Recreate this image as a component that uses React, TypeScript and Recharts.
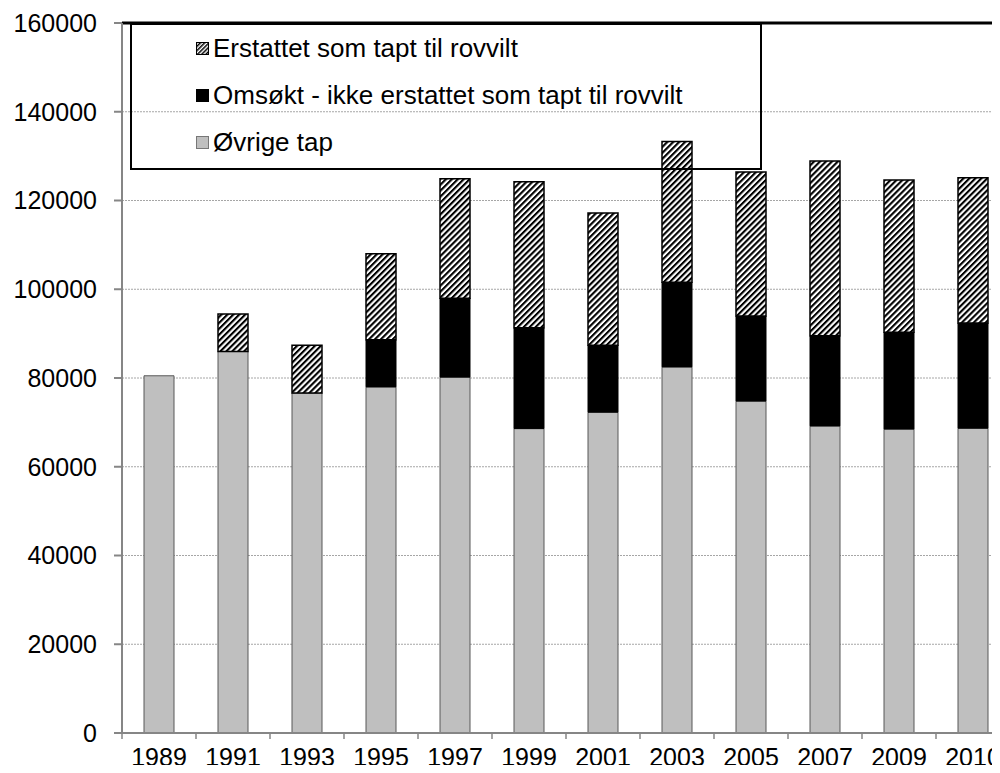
import { BarChart, Bar, XAxis, YAxis, CartesianGrid, ReferenceLine } from "recharts";

const YEARS = ["1989", "1991", "1993", "1995", "1997", "1999", "2001", "2003", "2005", "2007", "2009", "2010"];
const OVRIGE = [80500, 86000, 76600, 78000, 80200, 68600, 72300, 82500, 74800, 69200, 68500, 68700];
const OMSOKT = [null, null, null, 10600, 17800, 22700, 15100, 19100, 19200, 20300, 21800, 23700];
const ERSTATTET = [null, 8400, 10800, 19400, 26900, 32900, 29800, 31700, 32400, 39400, 34300, 32700];
const Y_TICKS = [0, 20000, 40000, 60000, 80000, 100000, 120000, 140000, 160000];

const LABELS = {
  erstattet: "Erstattet som tapt til rovvilt",
  omsokt: "Omsøkt - ikke erstattet som tapt til rovvilt",
  ovrige: "Øvrige tap",
};

const data = YEARS.map((year, i) => ({
  year,
  ovrige: OVRIGE[i],
  omsokt: OMSOKT[i],
  erstattet: ERSTATTET[i],
}));

const FONT = '"Liberation Sans", Arial, sans-serif';

// x tick: label in the middle, tick mark on the left edge of the band
const YearTick = (props: any) => {
  const { x, y, payload } = props;
  return (
    <g>
      <line x1={x - 37} y1={y} x2={x - 37} y2={y + 6} stroke="#868686" strokeWidth={1.5} />
      <text x={x} y={y + 33} textAnchor="middle" fontSize={25} fill="#000" fontFamily={FONT}>
        {payload.value}
      </text>
    </g>
  );
};

const Marker = ({ kind }: { kind: string }) => (
  <svg width={13} height={13} style={{ marginRight: 4, flex: "none" }}>
    <defs>
      <pattern id="hatchLeg" width={3} height={3} patternUnits="userSpaceOnUse" patternTransform="rotate(45)">
        <rect width={1.5} height={3} fill="#000" />
      </pattern>
    </defs>
    {kind === "erstattet" && <rect x={0.5} y={0.5} width={12} height={12} fill="url(#hatchLeg)" stroke="#000" />}
    {kind === "omsokt" && <rect x={0} y={0} width={13} height={13} fill="#000" />}
    {kind === "ovrige" && <rect x={0.5} y={0.5} width={12} height={12} fill="#bfbfbf" stroke="#777" />}
  </svg>
);

// legend box sits over the plot but is see-through, like the original
const LegendBox = () => (
  <div
    style={{
      position: "absolute",
      left: 130,
      top: 23,
      width: 628,
      height: 143,
      border: "2px solid #000",
      background: "transparent",
      pointerEvents: "none",
      fontFamily: FONT,
      fontSize: 26,
      color: "#000",
    }}
  >
    {(["erstattet", "omsokt", "ovrige"] as const).map((k, i) => (
      <div
        key={k}
        style={{
          position: "absolute",
          left: 64,
          top: 8 + i * 47,
          height: 30,
          display: "flex",
          alignItems: "center",
          whiteSpace: "nowrap",
          background: "#fff",
        }}
      >
        <Marker kind={k} />
        <span>{LABELS[k]}</span>
      </div>
    ))}
  </div>
);

export default function App() {
  return (
    <div style={{ position: "relative", width: 1000, height: 773, overflow: "hidden", margin: -8, background: "#fff" }}>
      <BarChart
        width={1010}
        height={773}
        data={data}
        margin={{ top: 23, right: 0, bottom: 0, left: 0 }}
        barSize={30}
      >
        <defs>
          <pattern id="hatch" width={4.2} height={4.2} patternUnits="userSpaceOnUse" patternTransform="rotate(45)">
            <rect width={4.2} height={4.2} fill="#fff" />
            <rect width={2.1} height={4.2} fill="#000" />
          </pattern>
        </defs>
        <CartesianGrid vertical={false} stroke="#a6a6a6" strokeDasharray="2 1" />
        <XAxis
          dataKey="year"
          height={40}
          stroke="#868686"
          strokeWidth={2}
          tickLine={false}
          tickSize={0}
          tickMargin={0}
          tick={<YearTick />}
          interval={0}
        />
        <YAxis
          width={122}
          domain={[0, 160000]}
          ticks={Y_TICKS}
          interval={0}
          stroke="#868686"
          strokeWidth={2}
          tickSize={8}
          tickMargin={17}
          tick={{ fontSize: 25, fill: "#000", fontFamily: FONT }}
        />
        <ReferenceLine y={160000} stroke="#000" strokeWidth={3} />
        <Bar dataKey="ovrige" stackId="a" fill="#bfbfbf" stroke="#595959" strokeWidth={1} isAnimationActive={false} />
        <Bar dataKey="omsokt" stackId="a" fill="#000" stroke="#000" strokeWidth={1} isAnimationActive={false} />
        <Bar dataKey="erstattet" stackId="a" fill="url(#hatch)" stroke="#000" strokeWidth={1.5} isAnimationActive={false} />
      </BarChart>
      <LegendBox />
    </div>
  );
}
